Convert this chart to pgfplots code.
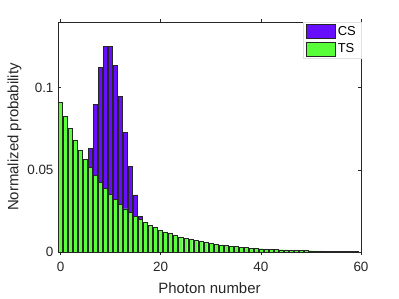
\documentclass[border=0pt]{standalone}
\usepackage{pgfplots}
\pgfplotsset{compat=1.18}
\usepackage{fontspec}
\setmainfont{Liberation Sans}
\definecolor{cspurple}{RGB}{104,14,255}
\definecolor{tsgreen}{RGB}{88,255,56}
\definecolor{axgray}{RGB}{38,38,38}
\begin{document}
\begin{tikzpicture}
\useasboundingbox (-58bp,-47bp) rectangle (341bp,252bp);
\begin{axis}[
  scale only axis, width=303bp, height=230bp,
  at={(0,0)}, anchor=south west,
  xmin=-0.5, xmax=60, ymin=0, ymax=0.14,
  xtick={0,20,40,60}, ytick={0,0.05,0.1},
  yticklabels={0,0.05,0.1},
  scaled y ticks=false,
  tick align=inside, tick pos=both,
  major tick length=3bp,
  axis line style={axgray, line width=0.5pt},
  tick style={axgray, line width=0.5pt},
  /pgf/number format/assume math mode=true,
  ticklabel style={font=\fontsize{13.5}{15}\selectfont, text=axgray},
  xticklabel style={yshift=-4bp},
  yticklabel style={xshift=-1bp},
  xlabel={Photon number}, ylabel={Normalized probability},
  label style={font=\fontsize{15}{17}\selectfont, text=axgray},
  xlabel style={yshift=-4bp},
  ylabel style={yshift=-1bp},
  ybar, bar width=0.8, bar shift=0pt,
  legend style={at={(1,1)}, anchor=north east, draw=black!12, fill=white,
    font=\fontsize{13}{14}\selectfont, inner xsep=3bp, inner ysep=2bp, row sep=3bp,
    cells={anchor=west}},
  legend image code/.code={\draw[#1] (0bp,-7bp) rectangle (29bp,7bp);},
]
\addplot[draw=black!85, line width=0.4pt, fill=cspurple] coordinates {
(0,0.0000454) (1,0.000454) (2,0.00227) (3,0.00757) (4,0.01892) (5,0.03783)
(6,0.06306) (7,0.09008) (8,0.11260) (9,0.12511) (10,0.12511) (11,0.11374)
(12,0.09478) (13,0.07291) (14,0.05208) (15,0.03472) (16,0.02170) (17,0.01276)
(18,0.00709) (19,0.00373) (20,0.00187) (21,0.00089) (22,0.00040) (23,0.00018)
(24,0.00007) (25,0.00003)
};
\addlegendentry{CS}
\addplot[draw=black!85, line width=0.4pt, fill=tsgreen] coordinates {
(0,0.090909) (1,0.082645) (2,0.075131) (3,0.068301) (4,0.062092) (5,0.056447)
(6,0.051316) (7,0.046651) (8,0.042410) (9,0.038554) (10,0.035049) (11,0.031863)
(12,0.028967) (13,0.026333) (14,0.023939) (15,0.021763) (16,0.019784) (17,0.017986)
(18,0.016351) (19,0.014864) (20,0.013513) (21,0.012285) (22,0.011168) (23,0.010153)
(24,0.009230) (25,0.008391) (26,0.007628) (27,0.006934) (28,0.006304) (29,0.005731)
(30,0.005210) (31,0.004736) (32,0.004306) (33,0.003914) (34,0.003558) (35,0.003235)
(36,0.002941) (37,0.002673) (38,0.002430) (39,0.002209) (40,0.002009) (41,0.001826)
(42,0.001660) (43,0.001509) (44,0.001372) (45,0.001247) (46,0.001134) (47,0.001031)
(48,0.000937) (49,0.000852) (50,0.000774) (51,0.000704) (52,0.000640) (53,0.000582)
(54,0.000529) (55,0.000481) (56,0.000437) (57,0.000397) (58,0.000361) (59,0.000328)
};
\addlegendentry{TS}
\end{axis}
\end{tikzpicture}
\end{document}
